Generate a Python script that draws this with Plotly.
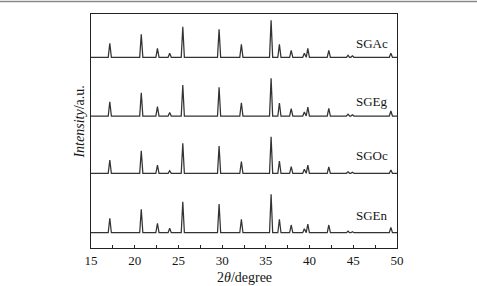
import plotly.graph_objects as go

# ---- data ----
PEAK_POS = [17.15, 20.75, 22.6, 24.0, 25.5, 29.65, 32.2, 35.6, 36.55, 37.9,
            39.4, 39.8, 42.2, 44.4, 44.9, 49.3]

SERIES = ["SGEn", "SGOc", "SGEg", "SGAc"]
OFFSETS = [15.3, 74.7, 132.0, 190.7]

HEIGHTS = {
    "SGAc": [14.0, 23.0, 9.0, 4.0, 30.6, 28.0, 13.0, 37.0, 13.0, 7.0, 4.0, 9.0, 7.0, 2.0, 1.5, 4.0],
    "SGEg": [14.3, 23.3, 9.3, 3.5, 31.0, 28.7, 13.3, 37.7, 13.0, 7.3, 4.0, 9.0, 7.7, 1.8, 1.3, 5.0],
    "SGOc": [13.3, 22.6, 8.3, 2.6, 30.0, 27.3, 11.6, 36.6, 12.3, 6.6, 4.0, 8.3, 6.3, 1.5, 1.0, 3.3],
    "SGEn": [14.4, 23.4, 9.4, 4.4, 31.0, 28.7, 13.4, 38.4, 13.4, 7.7, 4.0, 8.7, 7.7, 1.5, 1.0, 5.4],
}

LABEL_Y = {"SGAc": 205.0, "SGEg": 146.3, "SGOc": 93.0, "SGEn": 33.0}

X_MIN, X_MAX = 15, 50
Y_MIN, Y_MAX = 0, 234

# ---- figure ----
HALF_W = 0.18  # peak half-width (drawing style)
TXT = "#151515"

fig = go.Figure()
for name, off in zip(SERIES, OFFSETS):
    xs, ys = [X_MIN], [off]
    for p, h in zip(PEAK_POS, HEIGHTS[name]):
        xs += [p - HALF_W, p, p + HALF_W]
        ys += [off, off + h, off]
    xs.append(X_MAX)
    ys.append(off)
    fig.add_trace(go.Scatter(x=xs, y=ys, mode="lines",
                             line=dict(color="#333333", width=1.25),
                             showlegend=False, hoverinfo="skip"))
    fig.add_annotation(x=49.2, y=LABEL_Y[name], text=name, showarrow=False,
                       xanchor="right", yanchor="middle",
                       font=dict(family="Liberation Serif", size=13, color=TXT))

fig.add_annotation(xref="paper", yref="paper", x=0, y=0.536, xshift=-11,
                   text="<i>Intensity</i>/a.u.", textangle=-90, showarrow=False,
                   xanchor="center", yanchor="middle",
                   font=dict(family="Liberation Serif", size=14, color=TXT))
fig.add_annotation(xref="paper", yref="paper", x=0.5, y=0, yshift=-29,
                   text="2<i>θ</i>/degree", showarrow=False,
                   xanchor="center", yanchor="middle",
                   font=dict(family="Liberation Serif", size=14, color=TXT))

# thin grey frame line at very top of image
fig.add_shape(type="line", xref="paper", yref="paper",
              x0=-0.4, x1=1.4, y0=1 + 12.5 / 234, y1=1 + 12.5 / 234,
              line=dict(color="#8a8a8a", width=1.5))

fig.update_xaxes(range=[X_MIN, X_MAX], showline=True, linecolor="#222", linewidth=1.3,
                 mirror=True, ticks="inside", ticklen=3, tickcolor="#222",
                 tickmode="linear", tick0=15, dtick=5,
                 minor=dict(ticks="inside", ticklen=3, dtick=2.5, tick0=15, tickcolor="#222"),
                 showgrid=False, zeroline=False,
                 tickfont=dict(family="Liberation Serif", size=13, color=TXT))
fig.update_yaxes(range=[Y_MIN, Y_MAX], showline=True, linecolor="#222", linewidth=1.3,
                 mirror=True, ticks="", showticklabels=False, showgrid=False, zeroline=False)

fig.update_layout(width=477, height=286, margin=dict(l=91, r=80, t=14, b=38),
                  plot_bgcolor="white", paper_bgcolor="white")

fig.write_html("out.html")
